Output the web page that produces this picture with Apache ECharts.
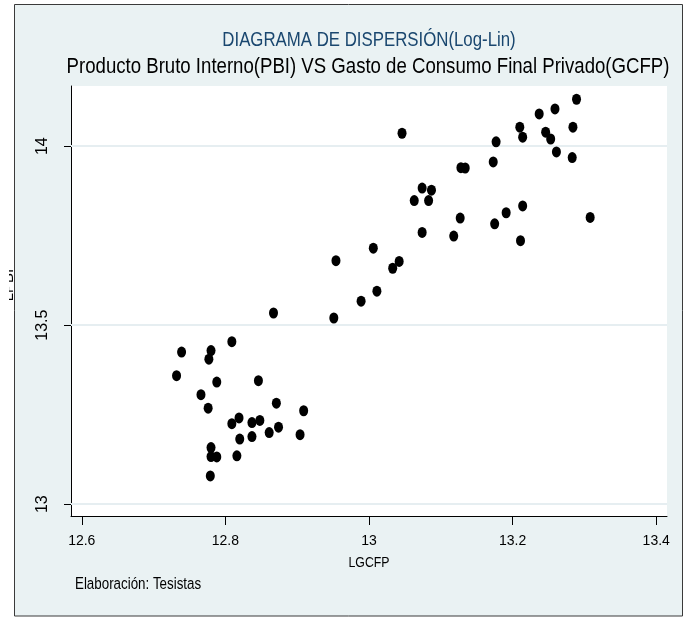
<!DOCTYPE html>
<html>
<head>
<meta charset="utf-8">
<script src="https://cdn.jsdelivr.net/npm/echarts@6/dist/echarts.min.js"></script>
<style>
html,body{margin:0;padding:0;background:#fff;}
#c{width:688px;height:618px;}
</style>
</head>
<body>
<div id="c"></div>
<script>
// ---- data ----
const titleText = 'DIAGRAMA DE DISPERSIÓN(Log-Lin)';
const subtitleText = 'Producto Bruto Interno(PBI) VS Gasto de Consumo Final Privado(GCFP)';
const xName = 'LGCFP';
const yName = 'LPBI';
const footerText = 'Elaboración: Tesistas';
const xTicks = [12.6, 12.8, 13, 13.2, 13.4];
const yTicks = [13, 13.5, 14];
const lgcfp = [
  12.739, 12.780, 12.777, 12.809, 12.732, 12.788, 12.766, 12.846, 12.776, 12.871,
  12.909, 12.819, 12.809, 12.837, 12.848, 12.820, 12.837, 12.861, 12.874, 12.904,
  12.780, 12.780, 12.788, 12.816, 12.779, 12.867,
  13.046, 13.128, 13.134, 13.074, 13.087, 13.063, 13.083, 13.127, 13.074, 13.118,
  13.006, 12.954, 13.042, 13.033, 13.011, 12.989, 12.951,
  13.289, 13.259, 13.237, 13.210, 13.284, 13.246, 13.177, 13.214, 13.253, 13.261,
  13.283, 13.173, 13.214, 13.191, 13.175, 13.211, 13.308
];
const lpbi = [
  13.425, 13.429, 13.405, 13.454, 13.359, 13.341, 13.306, 13.345, 13.268, 13.282,
  13.261, 13.241, 13.225, 13.228, 13.234, 13.182, 13.189, 13.200, 13.215, 13.194,
  13.158, 13.133, 13.132, 13.135, 13.079, 13.534,
  14.036, 13.940, 13.939, 13.883, 13.877, 13.848, 13.848, 13.799, 13.759, 13.749,
  13.715, 13.680, 13.678, 13.659, 13.595, 13.567, 13.520,
  14.131, 14.104, 14.090, 14.053, 14.053, 14.039, 14.012, 14.025, 14.020, 13.984,
  13.968, 13.956, 13.833, 13.814, 13.783, 13.736, 13.801
];

const points = lgcfp.map((x, i) => [x, lpbi[i]]);
const REG = '"Liberation Sans", Arial, sans-serif';
const SQ = 0.82; // horizontal squeeze of the reference's text

const chart = echarts.init(document.getElementById('c'), null, {renderer: 'canvas'});
chart.setOption({
  animation: false,
  backgroundColor: '#ffffff',
  grid: {left: 71, right: 21, top: 86, bottom: 102, containLabel: false},
  xAxis: {
    type: 'value', min: 12.585, max: 13.415,
    axisLine: {show: true, lineStyle: {color: '#000', width: 1}},
    axisTick: {show: true, customValues: xTicks, length: 9, lineStyle: {color: '#000'}},
    axisLabel: {customValues: xTicks, margin: 18, color: '#000', fontFamily: REG, fontSize: 14,
      formatter: v => String(v)},
    splitLine: {show: false}
  },
  yAxis: {
    type: 'value', min: 12.967, max: 14.168,
    axisLine: {show: true, lineStyle: {color: '#000', width: 1}},
    axisTick: {show: true, customValues: yTicks, length: 7, lineStyle: {color: '#000'}},
    axisLabel: {customValues: yTicks, rotate: 90, margin: 20, color: '#000', fontFamily: REG, fontSize: 16,
      formatter: v => String(v)},
    splitLine: {show: false}
  },
  series: [{
    type: 'scatter',
    data: points,
    symbol: 'circle',
    symbolSize: [9, 11],
    itemStyle: {color: '#000', opacity: 1},
    z: 5,
    markLine: {
      silent: true, symbol: 'none', label: {show: false},
      lineStyle: {color: '#e6eef1', type: 'solid', width: 2},
      data: yTicks.map(v => ({yAxis: v}))
    }
  }],
  graphic: {elements: [
    {type: 'rect', z: -100, shape: {x: 14.5, y: 4.5, width: 668, height: 611.5},
      style: {fill: '#eaf2f3', stroke: '#3a3a3a', lineWidth: 1}},
    {type: 'rect', z: -90, shape: {x: 71, y: 86, width: 596, height: 430},
      style: {fill: '#ffffff'}},
    {type: 'text', z: 100, x: 369, y: 40, scaleX: SQ,
      style: {text: titleText, fill: '#1a476f', font: '20.5px ' + REG, textAlign: 'center', textVerticalAlign: 'middle'}},
    {type: 'text', z: 100, x: 368, y: 67, scaleX: SQ,
      style: {text: subtitleText, fill: '#000', font: '22.7px ' + REG, textAlign: 'center', textVerticalAlign: 'middle'}},
    {type: 'text', z: 100, x: 369, y: 563, scaleX: SQ,
      style: {text: xName, fill: '#000', font: '15px ' + REG, textAlign: 'center', textVerticalAlign: 'middle'}},
    {type: 'text', z: 100, x: 75, y: 585, scaleX: SQ,
      style: {text: footerText, fill: '#000', font: '16.3px ' + REG, textAlign: 'left', textVerticalAlign: 'middle'}},
    {type: 'text', z: 100, x: 9, y: 285, rotation: Math.PI / 2,
      style: {text: yName, fill: '#000', font: '15px ' + REG, textAlign: 'center', textVerticalAlign: 'middle'}},
    {type: 'rect', z: 101, shape: {x: 0, y: 250, width: 9, height: 80},
      style: {fill: '#ffffff'}}
  ]}
});
</script>
</body>
</html>
